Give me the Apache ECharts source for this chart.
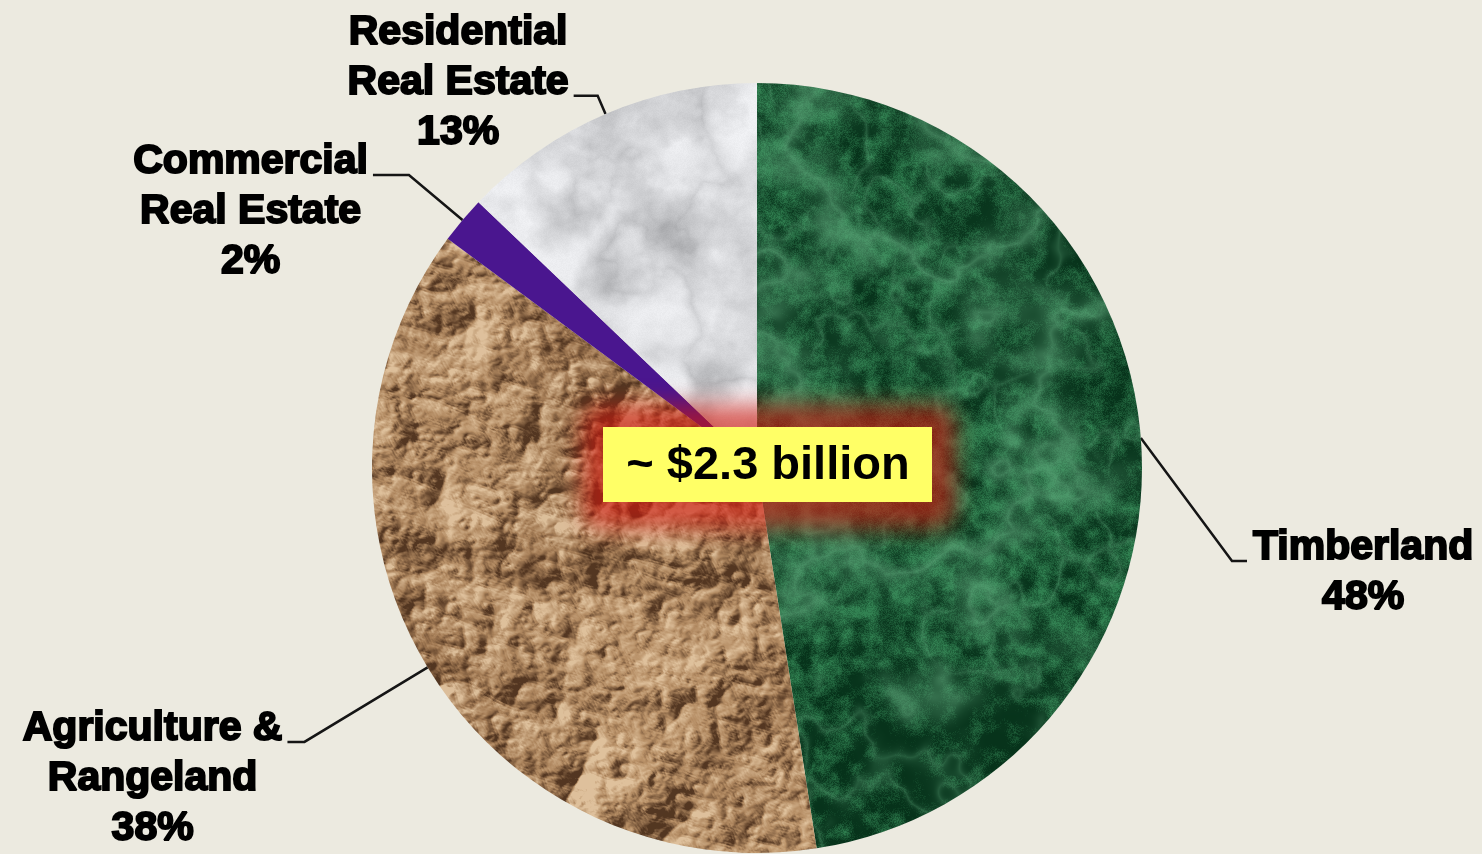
<!DOCTYPE html>
<html>
<head>
<meta charset="utf-8">
<title>Portfolio allocation</title>
<script src="https://cdn.jsdelivr.net/npm/echarts@6/dist/echarts.min.js"></script>
<style>
  html, body { margin: 0; padding: 0; background: #ECEAE0; }
  #chart { width: 1482px; height: 854px; }
</style>
</head>
<body>
<div id="chart"></div>
<script>
// ---- data ----
const categories = ['Timberland', 'Agriculture &\nRangeland', 'Commercial\nReal Estate', 'Residential\nReal Estate'];
const shares = [48, 38, 2, 13];          // percent of portfolio
const totalLabel = '~ $2.3 billion';

// ---- layout ----
const W = 1482, H = 854;
const pieCenter = [757, 468];
const pieRadius = 385;
// leader-line lengths and block padding for each label (top, bottom), in px
const guideLengths = [[0, 0], [144, 17], [70, 36], [20, 24]];
const labelPads = [[24, 0], [74, 0], [74, 0], [0, 26]];
const timberLabelAt = [1253, 561];   // label on the right, pulled below the slice midpoint
const totalBox = { x: 603, y: 427, width: 329, height: 75 };
const glowSpread = { left: 20, right: 23, top: 22, bottom: 26 };

const FONT = '"Liberation Sans", Arial, Helvetica, sans-serif';

// ---- procedural surface textures for the slices ----
function hash2(ix, iy, seed) {
  let h = Math.imul(ix, 374761393) ^ Math.imul(iy, 668265263) ^ Math.imul(seed, 982451653);
  h = Math.imul(h ^ (h >>> 13), 1274126177);
  h ^= h >>> 16;
  return (h >>> 0) / 4294967296;
}
function vnoise(x, y, seed) {
  const ix = Math.floor(x), iy = Math.floor(y);
  const fx = x - ix, fy = y - iy;
  const u = fx * fx * (3 - 2 * fx), v = fy * fy * (3 - 2 * fy);
  const a = hash2(ix, iy, seed), b = hash2(ix + 1, iy, seed);
  const c = hash2(ix, iy + 1, seed), d = hash2(ix + 1, iy + 1, seed);
  return a + (b - a) * u + (c - a) * v + (a - b - c + d) * u * v;
}
// fractal noise; each octave is rotated so the lattice does not show
const ROT = [0, 0.61, 1.27, 2.05, 2.66, 0.33, 1.81];
function fbm(x, y, seed, oct) {
  let s = 0, amp = 0.5, f = 1, norm = 0;
  for (let i = 0; i < oct; i++) {
    const c = Math.cos(ROT[i]), sn = Math.sin(ROT[i]);
    const xr = (x * c - y * sn) * f, yr = (x * sn + y * c) * f;
    s += amp * vnoise(xr + i * 3.7, yr - i * 1.9, seed + i * 17);
    norm += amp; f *= 2.03; amp *= 0.5;
  }
  return s / norm;
}
const clamp = (v, a, b) => v < a ? a : (v > b ? b : v);
const lerp = (a, b, t) => a + (b - a) * t;
const mix3 = (p, q, t) => [lerp(p[0], q[0], t), lerp(p[1], q[1], t), lerp(p[2], q[2], t)];

// angular range (clockwise from 12 o'clock) covered by each slice
const total = shares.reduce((s, v) => s + v, 0);
const sliceRanges = [];
{
  let acc = 0;
  shares.forEach(v => {
    const a0 = acc / total * Math.PI * 2;
    acc += v;
    sliceRanges.push([a0, acc / total * Math.PI * 2]);
  });
}

function paintTexture(sliceIndex, shader) {
  const cv = document.createElement('canvas');
  cv.width = W; cv.height = H;
  const ctx = cv.getContext('2d');
  const [cx, cy] = pieCenter;
  const r = pieRadius + 3;
  const x0 = Math.max(0, Math.floor(cx - r)), y0 = Math.max(0, Math.floor(cy - r));
  const x1 = Math.min(W, Math.ceil(cx + r)), y1 = Math.min(H, Math.ceil(cy + r));
  const rw = x1 - x0, rh = y1 - y0;
  const img = ctx.createImageData(rw, rh);
  const [a0, a1] = sliceRanges[sliceIndex];
  const m = 0.03;
  const prep = shader.prepare ? shader.prepare(x0, y0, rw, rh) : null;
  for (let j = 0; j < rh; j++) {
    for (let i = 0; i < rw; i++) {
      const x = x0 + i, y = y0 + j;
      const dx = x - cx, dy = y - cy;
      if (dx * dx + dy * dy > r * r) continue;
      let ang = Math.atan2(dx, -dy);
      if (ang < 0) ang += Math.PI * 2;
      if (dx * dx + dy * dy > 400 && (ang < a0 - m || ang > a1 + m)) continue;
      const c = shader.color(x, y, i, j, prep);
      const k = (j * rw + i) * 4;
      img.data[k] = clamp(c[0], 0, 255);
      img.data[k + 1] = clamp(c[1], 0, 255);
      img.data[k + 2] = clamp(c[2], 0, 255);
      img.data[k + 3] = 255;
    }
  }
  ctx.putImageData(img, x0, y0);
  return { image: cv, repeat: 'no-repeat' };
}

// dark green marble: grainy mottling with faint pale veins
const greenMarble = {
  color(x, y) {
    const n = fbm(x / 150, y / 150, 11, 4);
    const fine = fbm(x / 13, y / 13, 23, 3);
    const r1 = 1 - Math.abs(2 * fbm(x / 230, y / 190, 31, 5) - 1);
    const r2 = 1 - Math.abs(2 * fbm(x / 60, y / 70, 41, 3) - 1);
    const vein = Math.max(Math.pow(r1, 12) * 0.6, Math.pow(r2, 14) * 0.35);
    const g = hash2(x, y, 5) - 0.5;
    const t = clamp(0.3 + (n - 0.5) * 1.0 + (fine - 0.5) * 1.5 + g * 0.45, 0, 1);
    const c = mix3([6, 50, 26], [48, 128, 80], t);
    return mix3(c, [96, 168, 124], vein);
  }
};

// light grey-white marble with cloudy grey patches
const whiteMarble = {
  color(x, y) {
    const n = fbm(x / 55, y / 55, 51, 5);
    const r = 1 - Math.abs(2 * fbm(x / 130, y / 110, 61, 5) - 1);
    const vein = Math.pow(r, 7);
    const g = hash2(x, y, 9) - 0.5;
    const b = 242 - clamp((0.56 - n) * 110, 0, 62) - vein * 30 + g * 6;
    return [b - 2, b - 1, b + 2];
  }
};

// crumpled kraft paper: ridged height field lit from the upper left
const crumpledPaper = {
  prepare(x0, y0, rw, rh) {
    const hgt = new Float32Array(rw * rh);
    const ca = Math.cos(0.6), sa = Math.sin(0.6);
    for (let j = 0; j < rh; j++) {
      for (let i = 0; i < rw; i++) {
        const x = x0 + i, y = y0 + j;
        // stretch along a diagonal so folds run mostly corner to corner
        const u = (x * ca + y * sa) / 1.6, v = (-x * sa + y * ca);
        let s = 0, amp = 1, f = 1 / 55;
        for (let o = 0; o < 5; o++) {
          const c = Math.cos(ROT[o] * 0.4), sn = Math.sin(ROT[o] * 0.4);
          const nv = vnoise((u * c - v * sn) * f + o * 7.1, (u * sn + v * c) * f, 71 + o * 13);
          s += amp * (1 - Math.abs(2 * nv - 1));
          f *= 2.1; amp *= 0.5;
        }
        hgt[j * rw + i] = s;
      }
    }
    return { hgt, rw, rh };
  },
  color(x, y, i, j, p) {
    const { hgt, rw, rh } = p;
    const il = Math.max(0, i - 2), ir = Math.min(rw - 1, i + 2);
    const ju = Math.max(0, j - 2), jd = Math.min(rh - 1, j + 2);
    const hx = hgt[j * rw + ir] - hgt[j * rw + il];
    const hy = hgt[jd * rw + i] - hgt[ju * rw + i];
    const shade = clamp(-(hx * 0.75 + hy * 0.65) * 7.5, -1, 1);
    const low = fbm(x / 220, y / 220, 91, 3) - 0.5;
    const base = mix3([188, 148, 106], [160, 120, 82], clamp(0.5 - low * 2, 0, 1));
    return shade > 0
      ? mix3(base, [230, 202, 166], shade * 0.85)
      : mix3(base, [78, 50, 30], -shade * 0.95);
  }
};

const purpleFill = '#4a168f';

const fills = [
  paintTexture(0, greenMarble),
  paintTexture(1, crumpledPaper),
  purpleFill,
  paintTexture(3, whiteMarble)
];

// ---- chart ----
const labelText = {
  fontFamily: FONT,
  fontSize: 41,
  fontWeight: 'bold',
  color: '#000',
  textBorderColor: '#000',
  textBorderWidth: 2,
  lineHeight: 50
};

const seriesData = categories.map((name, i) => ({
  name,
  value: shares[i],
  itemStyle: { color: fills[i] },
  labelLine: { length: guideLengths[i][0], length2: guideLengths[i][1] },
  label: { padding: [labelPads[i][0], 0, labelPads[i][1], 0] }
}));

const chart = echarts.init(document.getElementById('chart'), null, { renderer: 'canvas', width: W, height: H });

// soft red halo: an off-canvas rect whose blurred shadow is shifted back behind the box
const HALO_SHIFT = 4000;
const halo = {
  x: totalBox.x - glowSpread.left,
  y: totalBox.y - glowSpread.top,
  width: totalBox.width + glowSpread.left + glowSpread.right,
  height: totalBox.height + glowSpread.top + glowSpread.bottom
};

chart.setOption({
  backgroundColor: '#ECEAE0',
  animation: false,
  series: [{
    type: 'pie',
    center: pieCenter,
    radius: pieRadius,
    startAngle: 90,
    clockwise: true,
    avoidLabelOverlap: false,
    silent: true,
    emphasis: { disabled: true },
    itemStyle: { borderWidth: 0 },
    label: Object.assign({
      show: true,
      position: 'outside',
      alignTo: 'none',
      distanceToLabelLine: 5,
      formatter: p => p.name.split('\n').map(s => '{c|' + s + '}').join('\n') + '\n{c|' + p.value + '%}',
      rich: { c: Object.assign({ align: 'center' }, labelText) }
    }, labelText),
    labelLine: {
      show: true,
      smooth: false,
      lineStyle: { color: '#151515', width: 2.5 }
    },
    labelLayout: params => {
      if (params.dataIndex !== 0) return {};
      const start = params.labelLinePoints[0];
      const [lx, ly] = timberLabelAt;
      return {
        x: lx,
        y: ly,
        align: 'left',
        verticalAlign: 'middle',
        labelLinePoints: [start, [lx - 21, ly], [lx - 6, ly]]
      };
    },
    data: seriesData
  }],
  graphic: [
    {
      type: 'rect', z: 100,
      shape: { x: halo.x - HALO_SHIFT, y: halo.y, width: halo.width, height: halo.height, r: 18 },
      style: {
        fill: '#000',
        shadowBlur: 22,
        shadowOffsetX: HALO_SHIFT,
        shadowColor: 'rgba(205,24,14,0.64)'
      }
    },
    {
      type: 'rect', z: 102,
      shape: { x: totalBox.x, y: totalBox.y, width: totalBox.width, height: totalBox.height },
      style: { fill: '#FFFF66' }
    },
    {
      type: 'text', z: 103,
      x: totalBox.x + totalBox.width / 2 + 0.5,
      y: totalBox.y + totalBox.height / 2 + 2,
      style: {
        text: totalLabel,
        fill: '#000',
        font: 'bold 47px ' + FONT,
        align: 'center',
        verticalAlign: 'middle'
      }
    }
  ]
});
</script>
</body>
</html>
